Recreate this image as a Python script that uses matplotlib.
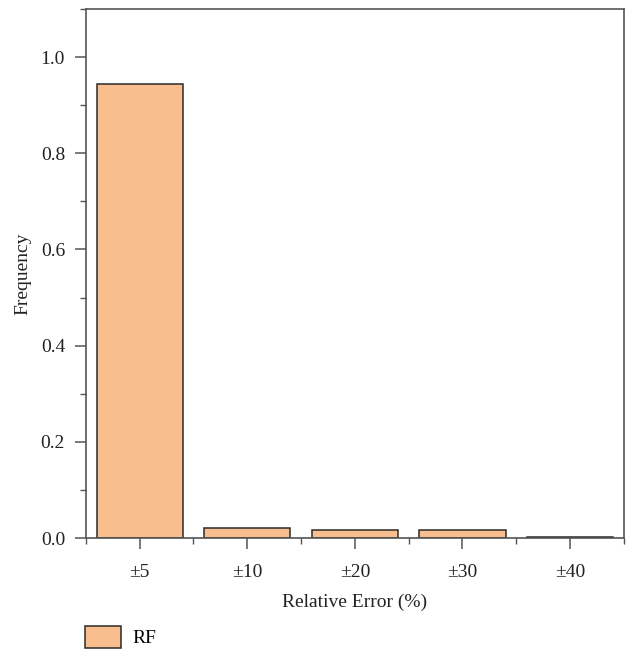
import matplotlib
matplotlib.use("Agg")
import matplotlib.pyplot as plt
from matplotlib.ticker import MultipleLocator

plt.rcParams["font.family"] = ["Liberation Serif", "DejaVu Serif"]

categories = ["\u00b15", "\u00b110", "\u00b120", "\u00b130", "\u00b140"]
frequency = [0.945, 0.020, 0.016, 0.016, 0.003]

BAR_COLOR = "#F9BE8E"
EDGE = "#2a2a2a"
SPINE = "#555555"

fig = plt.figure(figsize=(6.27, 6.5), dpi=100)
ax = fig.add_axes([0.137, 0.1723, 0.858, 0.8138])

x = list(range(len(categories)))
bars = ax.bar(x, frequency, width=0.8, color=BAR_COLOR, edgecolor=EDGE,
              linewidth=1.1, label="RF")

ax.set_xlim(-0.5, len(categories) - 0.5)
ax.set_ylim(0, 1.1)
ax.set_xticks(x)
ax.set_xticklabels(categories)
ax.set_xticks([i + 0.5 for i in range(-1, len(categories))], minor=True)
ax.yaxis.set_major_locator(MultipleLocator(0.2))
ax.yaxis.set_minor_locator(MultipleLocator(0.1))
ax.yaxis.set_major_formatter(matplotlib.ticker.FormatStrFormatter("%.1f"))

for side in ax.spines.values():
    side.set_color(SPINE)
    side.set_linewidth(1.2)
ax.tick_params(axis="both", which="major", direction="out", length=8, width=1.1,
               color=SPINE, labelsize=14, labelcolor="#222222")
ax.tick_params(axis="x", which="major", pad=11)
ax.tick_params(axis="y", which="major", pad=7)
ax.tick_params(axis="both", which="minor", direction="out", length=4, width=1.0,
               color=SPINE)
ax.tick_params(top=False, right=False, which="both")

ax.set_xlabel("Relative Error (%)", fontsize=14, color="#222222", labelpad=9)
ax.set_ylabel("Frequency", fontsize=14, color="#222222", labelpad=7)

fig.legend(handles=[bars], labels=["RF"], loc="lower left",
           bbox_to_anchor=(0.107, -0.024), frameon=False, fontsize=14,
           handlelength=1.85, handleheight=1.4, handletextpad=0.6)

fig.savefig("out.png", dpi=100)
